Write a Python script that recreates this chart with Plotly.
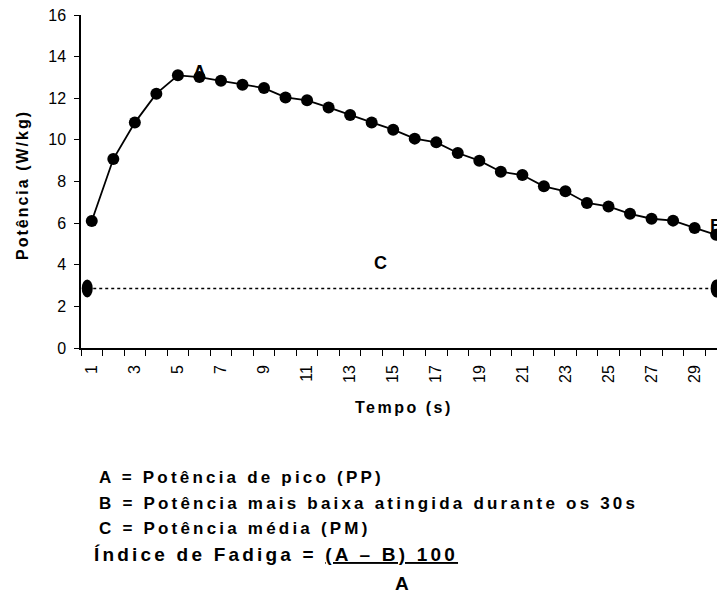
import plotly.graph_objects as go

# ---- data ----
tempo = list(range(1, 31))
potencia = [6.10, 9.08, 10.83, 12.22, 13.10, 13.02, 12.84, 12.65, 12.49, 12.04,
            11.90, 11.56, 11.19, 10.84, 10.49, 10.06, 9.88, 9.37, 9.00, 8.47,
            8.31, 7.77, 7.53, 6.97, 6.80, 6.45, 6.21, 6.12, 5.77, 5.44]
media_x = [0.79, 30]
media_y = [2.86, 2.86]
x_tick_vals = list(range(1, 31, 2))
x_tick_text = [str(v) for v in x_tick_vals]
y_tick_vals = list(range(0, 17, 2))

W, H = 717, 594
ML, MR, MT, MB = 81, 0, 15, 246
PW, PH = W - ML - MR, H - MT - MB

FONT = "Arial, Liberation Sans, sans-serif"


def px(xp):
    return (xp - ML) / PW


def py(yp):
    return (H - MB - yp) / PH


def sp(text, ls):
    return f"<span style='letter-spacing:{ls}px'>{text}</span>"


fig = go.Figure()

fig.add_trace(go.Scatter(
    x=tempo, y=potencia, mode="lines+markers",
    line=dict(color="black", width=1.8),
    marker=dict(color="black", size=12, symbol="circle"),
    showlegend=False, hoverinfo="skip"))

fig.add_trace(go.Scatter(
    x=media_x, y=media_y, mode="lines",
    line=dict(color="black", width=1.3, dash="dot"),
    showlegend=False, hoverinfo="skip"))

shapes = []
for mx, my in zip(media_x, media_y):
    shapes.append(dict(type="circle", xref="x", yref="y",
                       xsizemode="pixel", ysizemode="pixel",
                       xanchor=mx, yanchor=my,
                       x0=-5.5, x1=5.5, y0=-9, y1=9,
                       fillcolor="black", line=dict(color="black", width=0)))

annotations = []
# point labels
annotations.append(dict(x=tempo[5], y=potencia[5], xref="x", yref="y", text="<b>A</b>",
                        showarrow=False, yshift=5,
                        font=dict(family=FONT, size=18, color="black")))
annotations.append(dict(x=tempo[29], y=potencia[29], xref="x", yref="y", text="<b>B</b>",
                        showarrow=False, yshift=9,
                        font=dict(family=FONT, size=18, color="black")))
annotations.append(dict(x=14.4, y=media_y[0], xref="x", yref="y", text="<b>C</b>",
                        showarrow=False, yshift=25,
                        font=dict(family=FONT, size=18, color="black")))

# axis titles
annotations.append(dict(x=px(404), y=py(407), xref="paper", yref="paper",
                        text="<b>" + sp("Tempo (s)", 2.5) + "</b>", showarrow=False,
                        xanchor="center", yanchor="middle",
                        font=dict(family=FONT, size=16, color="black")))
annotations.append(dict(x=px(22), y=py(185), xref="paper", yref="paper",
                        text="<b>" + sp("Potência (W/kg)", 2) + "</b>", showarrow=False,
                        textangle=-90, xanchor="center", yanchor="middle",
                        font=dict(family=FONT, size=16, color="black")))

# legend text below
lines = [
    ("A = Potência de pico (PP)", 478),
    ("B = Potência mais baixa atingida durante os 30s", 503),
    ("C = Potência média (PM)", 528),
]
for t, yp in lines:
    annotations.append(dict(x=px(97), y=py(yp), xref="paper", yref="paper",
                            text="<b>" + sp(t, 3.2) + "</b>", showarrow=False,
                            xanchor="left", yanchor="middle",
                            font=dict(family=FONT, size=17, color="black")))
annotations.append(dict(x=px(92), y=py(554), xref="paper", yref="paper",
                        text="<b>" + sp("Índice de Fadiga = <u>(A – B) 100</u>", 3.2) + "</b>",
                        showarrow=False, xanchor="left", yanchor="middle",
                        font=dict(family=FONT, size=19, color="black")))
annotations.append(dict(x=px(402), y=py(583), xref="paper", yref="paper",
                        text="<b>A</b>", showarrow=False,
                        xanchor="center", yanchor="middle",
                        font=dict(family=FONT, size=19, color="black")))

fig.update_layout(
    width=W, height=H,
    margin=dict(l=ML, r=MR, t=MT, b=MB, pad=0),
    paper_bgcolor="white", plot_bgcolor="white",
    shapes=shapes, annotations=annotations,
    font=dict(family=FONT, color="black"),
)

fig.update_xaxes(
    range=[0.5, 0.5 + PW / 21.53],
    showgrid=False, zeroline=False,
    showline=True, linecolor="black", linewidth=1.5,
    tickmode="array", tickvals=x_tick_vals, ticktext=x_tick_text,
    ticks="outside", ticklen=0, tickangle=-90,
    ticklabelstandoff=9,
    tickfont=dict(family=FONT, size=16, color="black"),
    minor=dict(tick0=0.5, dtick=1, ticks="outside", ticklen=6,
               tickcolor="black", tickwidth=1.2, showgrid=False),
)
fig.update_yaxes(
    range=[0, 16],
    showgrid=False, zeroline=False,
    showline=True, linecolor="black", linewidth=1.5,
    tickmode="array", tickvals=y_tick_vals,
    ticks="outside", ticklen=5, tickcolor="black", tickwidth=1.2,
    ticklabelstandoff=5, ticklabeloverflow="allow",
    tickfont=dict(family=FONT, size=16, color="black"),
)

fig.write_html(
    "out.html",
    config={"displayModeBar": False},
    post_script="document.body.style.margin='0';document.body.style.overflow='hidden';",
)
